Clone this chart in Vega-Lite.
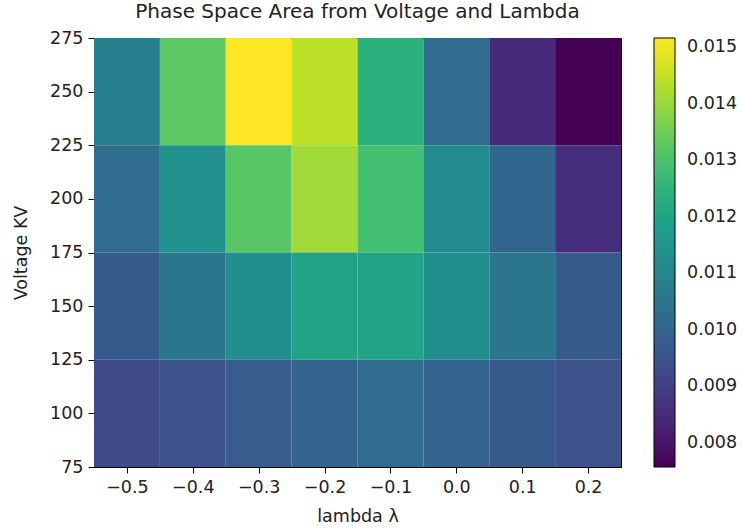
{
  "$schema": "https://vega.github.io/schema/vega-lite/v6.json",
  "autosize": {"type": "none"},
  "padding": {"left": 94, "top": 38, "right": 122, "bottom": 64},
  "width": 527,
  "height": 429,
  "background": "white",
  "title": {
    "text": "Phase Space Area from Voltage and Lambda",
    "font": "DejaVu Sans",
    "fontSize": 20,
    "fontWeight": "normal",
    "color": "#222",
    "anchor": "middle",
    "offset": 7
  },
  "config": {
    "view": {"stroke": "black", "strokeWidth": 1},
    "axis": {
      "labelFont": "DejaVu Sans",
      "titleFont": "DejaVu Sans",
      "labelFontSize": 17.5,
      "titleFontSize": 17.5,
      "titleFontWeight": "normal",
      "labelColor": "#222",
      "titleColor": "#222",
      "domainColor": "black",
      "tickColor": "black",
      "tickSize": 6,
      "grid": false,
      "zindex": 1
    },
    "legend": {
      "labelFont": "DejaVu Sans",
      "labelFontSize": 17.5,
      "labelColor": "#222"
    }
  },
  "data": {
    "values": [
      {"lam": -0.5, "volt": 250, "area": 0.01084},
      {"lam": -0.4, "volt": 250, "area": 0.01326},
      {"lam": -0.3, "volt": 250, "area": 0.01516},
      {"lam": -0.2, "volt": 250, "area": 0.01440},
      {"lam": -0.1, "volt": 250, "area": 0.01243},
      {"lam": 0.0, "volt": 250, "area": 0.01022},
      {"lam": 0.1, "volt": 250, "area": 0.00848},
      {"lam": 0.2, "volt": 250, "area": 0.00757},
      {"lam": -0.5, "volt": 200, "area": 0.01023},
      {"lam": -0.4, "volt": 200, "area": 0.01137},
      {"lam": -0.3, "volt": 200, "area": 0.01319},
      {"lam": -0.2, "volt": 200, "area": 0.01410},
      {"lam": -0.1, "volt": 200, "area": 0.01288},
      {"lam": 0.0, "volt": 200, "area": 0.01122},
      {"lam": 0.1, "volt": 200, "area": 0.01008},
      {"lam": 0.2, "volt": 200, "area": 0.00856},
      {"lam": -0.5, "volt": 150, "area": 0.00970},
      {"lam": -0.4, "volt": 150, "area": 0.01053},
      {"lam": -0.3, "volt": 150, "area": 0.01129},
      {"lam": -0.2, "volt": 150, "area": 0.01197},
      {"lam": -0.1, "volt": 150, "area": 0.01197},
      {"lam": 0.0, "volt": 150, "area": 0.01129},
      {"lam": 0.1, "volt": 150, "area": 0.01053},
      {"lam": 0.2, "volt": 150, "area": 0.00970},
      {"lam": -0.5, "volt": 100, "area": 0.00924},
      {"lam": -0.4, "volt": 100, "area": 0.00947},
      {"lam": -0.3, "volt": 100, "area": 0.00977},
      {"lam": -0.2, "volt": 100, "area": 0.01000},
      {"lam": -0.1, "volt": 100, "area": 0.01023},
      {"lam": 0.0, "volt": 100, "area": 0.01000},
      {"lam": 0.1, "volt": 100, "area": 0.00970},
      {"lam": 0.2, "volt": 100, "area": 0.00947}
    ]
  },
  "transform": [
    {"calculate": "datum.lam - 0.05", "as": "x0"},
    {"calculate": "datum.lam + 0.05", "as": "x1"},
    {"calculate": "datum.volt - 25", "as": "y0"},
    {"calculate": "datum.volt + 25", "as": "y1"}
  ],
  "mark": {"type": "rect"},
  "encoding": {
    "x": {
      "field": "x0",
      "type": "quantitative",
      "scale": {"domain": [-0.55, 0.25], "nice": false, "zero": false},
      "axis": {
        "values": [-0.5, -0.4, -0.3, -0.2, -0.1, 0.0, 0.1, 0.2],
        "format": ".1f",
        "labelExpr": "replace(datum.label, '-', '\u2212')",
        "title": "lambda \u03bb",
        "titlePadding": 12,
        "labelPadding": 5
      }
    },
    "x2": {"field": "x1"},
    "y": {
      "field": "y0",
      "type": "quantitative",
      "scale": {"domain": [75, 275], "nice": false, "zero": false},
      "axis": {
        "values": [75, 100, 125, 150, 175, 200, 225, 250, 275],
        "title": "Voltage KV",
        "titlePadding": 19,
        "labelPadding": 5
      }
    },
    "y2": {"field": "y1"},
    "color": {
      "field": "area",
      "type": "quantitative",
      "scale": {"scheme": "viridis", "domain": [0.007574, 0.01516]},
      "legend": {
        "type": "gradient",
        "title": null,
        "orient": "right",
        "direction": "vertical",
        "offset": 33,
        "padding": 0,
        "gradientLength": 429,
        "gradientThickness": 21,
        "gradientStrokeColor": "black",
        "gradientStrokeWidth": 1,
        "values": [0.008, 0.009, 0.010, 0.011, 0.012, 0.013, 0.014, 0.015],
        "format": ".3f",
        "labelOffset": 12,
        "labelOverlap": false
      }
    }
  }
}
